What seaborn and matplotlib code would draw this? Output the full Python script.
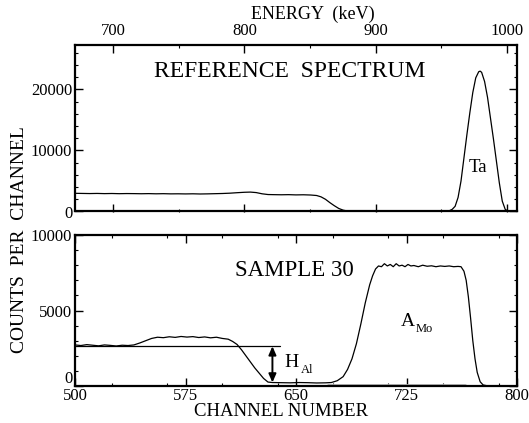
import matplotlib
matplotlib.use("Agg")
import matplotlib.pyplot as plt
import matplotlib.transforms as mtransforms
import seaborn as sns
import pandas as pd
from matplotlib.ticker import MultipleLocator, FixedLocator, NullFormatter

# ---------------- data ----------------
ref_channel = [500, 505, 510, 515, 520, 525, 530, 535, 540, 545, 550, 555, 560, 565,
               570, 575, 580, 585, 590, 595, 600, 605, 610, 615, 619, 623, 627, 631,
               635, 640, 645, 650, 655, 660, 664, 667, 670, 673, 676, 679, 682, 685,
               688, 692, 700, 720, 740, 750, 754, 756, 758, 760, 762, 764, 766, 768,
               770, 772, 774, 775, 776, 778, 780, 782, 784, 786, 788, 790, 792, 794,
               797, 800]
ref_counts = [2980, 2960, 2940, 2960, 2930, 2950, 2920, 2940, 2930, 2910, 2930, 2900, 2920, 2890,
              2900, 2880, 2900, 2870, 2890, 2920, 2950, 3000, 3080, 3150, 3180, 3100, 2900, 2780,
              2760, 2740, 2760, 2720, 2740, 2700, 2620, 2400, 2000, 1450, 950, 500, 220, 80,
              30, 10, 5, 5, 10, 40, 120, 350, 850, 2300, 5000, 8800, 12600, 16200,
              19500, 21900, 22900, 23000, 22800, 21300, 18700, 15300, 11900, 8300, 4700, 1700, 350, 50,
              0, 0]

sample_channel = [500, 504, 508, 512, 516, 520, 524, 528, 532, 536, 540, 544, 548, 552,
                  556, 560, 564, 568, 572, 576, 580, 584, 588, 592, 596, 600, 604, 607,
                  610, 613, 616, 619, 622, 625, 628, 631, 634, 640, 646, 652, 658, 664,
                  670, 674, 678, 682, 685, 688, 691, 694, 697, 700, 702, 704, 706, 708,
                  710, 712, 714, 716, 718, 720, 722, 724, 726, 728, 730, 733, 736, 739,
                  742, 745, 748, 751, 754, 757, 760, 762, 764, 765.5, 767, 768.5, 770, 771.5,
                  773, 775, 777, 780, 790, 800]
sample_counts = [2720, 2680, 2740, 2700, 2660, 2720, 2690, 2650, 2700, 2680, 2720, 2850, 3000, 3150,
                 3230, 3200, 3260, 3220, 3280, 3240, 3270, 3210, 3250, 3190, 3230, 3150, 3100, 2950,
                 2750, 2400, 2000, 1600, 1200, 850, 500, 260, 230, 220, 210, 230, 220, 200,
                 210, 230, 350, 620, 1100, 1800, 2800, 4100, 5500, 6700, 7300, 7750, 7950, 7900,
                 8100, 7950, 8050, 7900, 8100, 7950, 8000, 7900, 8050, 7950, 7980, 7900, 8000, 7930,
                 7960, 7900, 7950, 7920, 7950, 7900, 7920, 7900, 7600, 7000, 5900, 4500, 3000, 1800,
                 900, 280, 70, 10, 0, 0]

background_channel = [672, 765]
background_counts = [60, 60]

h_al_level = 2630
h_al_bottom = 230
h_al_line_channels = [500, 639]
h_al_arrow_channel = 634

energy_major = [700, 800, 900, 1000]
energy_minor = [650, 750, 850, 950]
channel_major = [500, 575, 650, 725, 800]
ref_yticks = [0, 10000, 20000]
sample_yticks = [0, 5000, 10000]

E0_KEV = 700.0
E0_CHANNEL = 526.0
KEV_PER_CHANNEL = 1.1232


def ch2e(ch):
    return E0_KEV + (ch - E0_CHANNEL) * KEV_PER_CHANNEL


def e2ch(e):
    return E0_CHANNEL + (e - E0_KEV) / KEV_PER_CHANNEL


# ---------------- style ----------------
sns.set_style("ticks")
plt.rcParams["font.family"] = ["Liberation Serif", "DejaVu Serif"]
plt.rcParams["text.color"] = "black"
plt.rcParams["axes.labelcolor"] = "black"
plt.rcParams["xtick.color"] = "black"
plt.rcParams["ytick.color"] = "black"
plt.rcParams["xtick.direction"] = "in"
plt.rcParams["ytick.direction"] = "in"

W, H = 529, 423
fig = plt.figure(figsize=(W / 100, H / 100), dpi=100)
L, R = 75, 517
ax1 = fig.add_axes([L / W, 1 - 211.5 / H, (R - L) / W, (211.5 - 45.5) / H])
ax2 = fig.add_axes([L / W, 1 - 386 / H, (R - L) / W, (386 - 235) / H])

ref_df = pd.DataFrame({"channel": ref_channel, "counts": ref_counts})
smp_df = pd.DataFrame({"channel": sample_channel, "counts": sample_counts})
bg_df = pd.DataFrame({"channel": background_channel, "counts": background_counts})

sns.lineplot(data=ref_df, x="channel", y="counts", ax=ax1, color="black", lw=0.9,
             sort=False, estimator=None)
sns.lineplot(data=bg_df, x="channel", y="counts", ax=ax2, color="#b0b0b0", lw=2.0,
             sort=False, estimator=None)
sns.lineplot(data=smp_df, x="channel", y="counts", ax=ax2, color="black", lw=0.9,
             sort=False, estimator=None)

tick_fs = 12
for ax in (ax1, ax2):
    ax.set_xlim(500, 800)
    ax.set_xlabel("")
    ax.set_ylabel("")
    for s in ax.spines.values():
        s.set_linewidth(1.6)
        s.set_color("black")
    ax.tick_params(which="major", length=5.5, width=1.0, labelsize=tick_fs, colors="black")
    ax.tick_params(which="minor", length=2.5, width=0.8, colors="black")
    ax.tick_params(axis="y", left=True, right=True, which="both", pad=2)

# top panel
ax1.set_ylim(0, 27200)
ax1.yaxis.set_major_locator(FixedLocator(ref_yticks))
ax1.yaxis.set_minor_locator(MultipleLocator(2000))
ax1.tick_params(axis="x", which="both", bottom=False, top=False, labelbottom=False)

sec_top = ax1.secondary_xaxis("top", functions=(ch2e, e2ch))
sec_top.xaxis.set_major_locator(FixedLocator(energy_major))
sec_top.xaxis.set_minor_locator(FixedLocator(energy_minor))
sec_top.tick_params(which="major", direction="in", length=5.5, width=1.0, labelsize=tick_fs,
                    pad=5, colors="black")
sec_top.tick_params(which="minor", direction="in", length=2.5, width=0.8, colors="black")
sec_top.spines["top"].set_visible(False)

sec_bot = ax1.secondary_xaxis("bottom", functions=(ch2e, e2ch))
sec_bot.xaxis.set_major_locator(FixedLocator(energy_major))
sec_bot.xaxis.set_minor_locator(FixedLocator(energy_minor))
sec_bot.xaxis.set_major_formatter(NullFormatter())
sec_bot.tick_params(which="major", direction="in", length=5.5, width=1.0, colors="black")
sec_bot.tick_params(which="minor", direction="in", length=2.5, width=0.8, colors="black")
sec_bot.spines["bottom"].set_visible(False)

# bottom panel
ax2.set_ylim(0, 10000)
ax2.yaxis.set_major_locator(FixedLocator(sample_yticks))
ax2.yaxis.set_minor_locator(MultipleLocator(1000))
ax2.xaxis.set_major_locator(FixedLocator(channel_major))
ax2.xaxis.set_minor_locator(MultipleLocator(37.5))
ax2.tick_params(axis="x", which="both", bottom=True, top=True, pad=1.2)

# nudge the bottom "0" label up so it clears the "500" label
fig.canvas.draw()
zero_label = ax2.get_yticklabels()[0]
zero_label.set_transform(zero_label.get_transform() +
                         mtransforms.ScaledTranslation(0, 9.5 / 100, fig.dpi_scale_trans))

# annotations
ax1.text(646, 23000, "REFERENCE  SPECTRUM", fontsize=17, ha="center", va="center")
ax1.text(773.5, 7200, "Ta", fontsize=13.5, ha="center", va="center")
ax2.text(649, 7640, "SAMPLE 30", fontsize=16.5, ha="center", va="center")
ax2.text(726, 4270, "A", fontsize=14, ha="center", va="center")
ax2.text(731, 3750, "Mo", fontsize=9, ha="left", va="center")
ax2.text(647, 1550, "H", fontsize=14, ha="center", va="center")
ax2.text(653.5, 1050, "Al", fontsize=9, ha="left", va="center")

ax2.plot(h_al_line_channels, [h_al_level, h_al_level], color="black", lw=0.9)
ax2.annotate("", xy=(h_al_arrow_channel, h_al_bottom), xytext=(h_al_arrow_channel, h_al_level),
             arrowprops=dict(arrowstyle="<|-|>,head_length=0.5,head_width=0.22",
                             color="black", lw=1.4, shrinkA=0, shrinkB=0))

fig.text(313 / W, 1 - 14 / H, "ENERGY  (keV)", fontsize=13, ha="center", va="center")
fig.text(281 / W, 1 - 411 / H, "CHANNEL NUMBER", fontsize=13.5, ha="center", va="center")
fig.text(20 / W, 1 - 240 / H, "COUNTS  PER  CHANNEL", fontsize=14, rotation=90,
         ha="center", va="center")

fig.savefig("out.png", dpi=100, facecolor="white")
